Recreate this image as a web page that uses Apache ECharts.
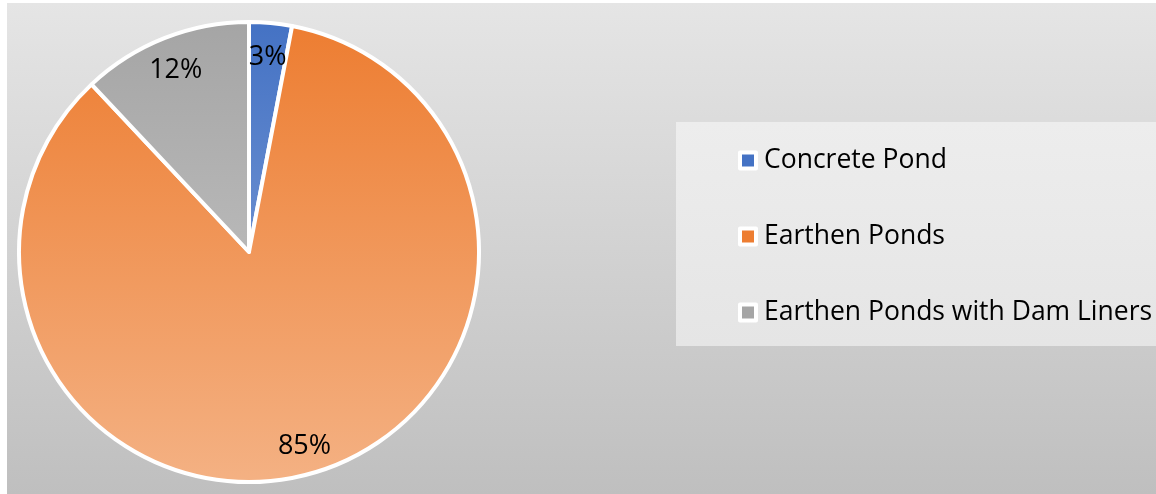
<!DOCTYPE html>
<html>
<head>
<meta charset="utf-8">
<script src="https://cdn.jsdelivr.net/npm/echarts@6/dist/echarts.min.js"></script>
<style>
html,body{margin:0;padding:0;background:#ffffff;}
#chart{width:1156px;height:494px;}
</style>
</head>
<body>
<div id="chart"></div>
<script>
const categories = ['Concrete Pond', 'Earthen Ponds', 'Earthen Ponds with Dam Liners'];
const values = [3, 85, 12];
const colorsTop = ['#4472C4', '#ED7D31', '#A5A5A5'];
const colorsBottom = ['#8FAADC', '#F4B183', '#CBCBCB'];

const CX = 249, CY = 252, R = 230;

function grad(i) {
  return {
    type: 'linear', global: true,
    x: 0, y: CY - R, x2: 0, y2: CY + R,
    colorStops: [{offset: 0, color: colorsTop[i]}, {offset: 1, color: colorsBottom[i]}]
  };
}

const pieData = categories.map((name, i) => ({
  name: name, value: values[i],
  itemStyle: {color: grad(i)}
}));
const labelData = categories.map((name, i) => ({name: name, value: values[i]}));

const chart = echarts.init(document.getElementById('chart'), null, {renderer: 'canvas'});
chart.setOption({
  animation: false,
  graphic: [
    {
      type: 'rect', z: -10, silent: true,
      shape: {x: 7, y: 3, width: 1149, height: 491},
      style: {fill: {type: 'linear', x: 0, y: 0, x2: 0, y2: 1,
        colorStops: [{offset: 0, color: '#E5E5E5'}, {offset: 1, color: '#BFBFBF'}]}}
    },
    {
      type: 'rect', z: -9, silent: true,
      shape: {x: 676, y: 122, width: 480, height: 224},
      style: {fill: {type: 'linear', x: 0, y: 0, x2: 0, y2: 1,
        colorStops: [{offset: 0, color: '#EDEDED'}, {offset: 1, color: '#E5E5E5'}]}}
    }
  ],
  legend: {
    orient: 'vertical',
    left: 738, top: 147,
    padding: 0,
    itemWidth: 16, itemHeight: 16,
    itemGap: 49,
    icon: 'rect',
    data: categories.map((name, i) => ({
      name: name,
      itemStyle: {color: grad(i), borderColor: '#ffffff', borderWidth: 4}
    })),
    textStyle: {
      fontFamily: 'Open Sans', fontSize: 26.5, color: '#000000',
      lineHeight: 26, padding: [0, 0, 0, 3]
    }
  },
  series: [
    {
      type: 'pie',
      center: [CX, CY],
      radius: [0, R],
      startAngle: 90,
      clockwise: true,
      label: {show: false},
      labelLine: {show: false},
      itemStyle: {borderColor: '#ffffff', borderWidth: 4},
      emphasis: {disabled: true},
      data: pieData
    },
    {
      type: 'pie',
      center: [CX, CY],
      radius: [162, R],
      startAngle: 90,
      clockwise: true,
      silent: true,
      legendHoverLink: false,
      itemStyle: {color: 'rgba(0,0,0,0)', borderWidth: 0},
      label: {
        show: true, position: 'inside',
        formatter: '{c}%',
        offset: [0, 3],
        fontFamily: 'Open Sans', fontSize: 27, color: '#000000'
      },
      labelLine: {show: false},
      emphasis: {disabled: true},
      data: labelData
    }
  ]
});
</script>
</body>
</html>
